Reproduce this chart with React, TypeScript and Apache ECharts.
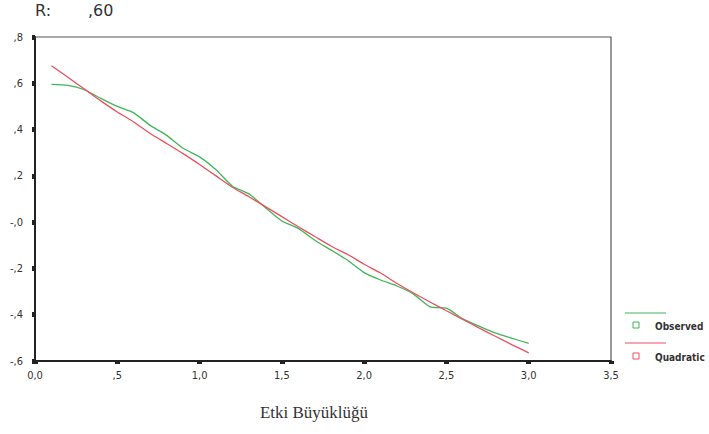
import React, { useEffect, useRef } from "react";
import * as echarts from "echarts";

const xValues = [0.1, 0.2, 0.3, 0.4, 0.5, 0.6, 0.7, 0.8, 0.9, 1.0, 1.1, 1.2, 1.3, 1.4, 1.5, 1.6, 1.7, 1.8, 1.9, 2.0, 2.1, 2.2, 2.3, 2.4, 2.5, 2.6, 2.7, 2.8, 2.9, 3.0];
const observed = [0.595, 0.591, 0.572, 0.535, 0.5, 0.472, 0.418, 0.375, 0.319, 0.282, 0.226, 0.155, 0.122, 0.062, 0.005, -0.027, -0.078, -0.121, -0.165, -0.218, -0.25, -0.276, -0.311, -0.366, -0.372, -0.418, -0.45, -0.48, -0.502, -0.524];
const quadratic = [0.676, 0.626, 0.575, 0.524, 0.476, 0.433, 0.383, 0.34, 0.296, 0.249, 0.2, 0.151, 0.11, 0.067, 0.024, -0.02, -0.062, -0.104, -0.14, -0.182, -0.22, -0.265, -0.306, -0.345, -0.383, -0.42, -0.458, -0.494, -0.53, -0.565];
const seriesNames = ["Observed", "Quadratic"];
const xAxisTitle = "Etki Büyüklüğü";
const rLabel = "R:";
const rValue = ",60";

const GREEN = "#3fb75a";
const RED = "#ec4f5e";

function fmtYLabel(v: number): string {
  const r = Math.round(v * 10) / 10;
  const s = Math.abs(r).toFixed(1).replace(".", ",").replace(/^0,/, ",");
  return r > 0 ? s : "-" + s;
}
function fmtX(v: number): string {
  const r = Math.round(v * 10) / 10;
  if (r === 0) return "0,0";
  return r.toFixed(1).replace(".", ",").replace(/^0,/, ",");
}

export default function App() {
  const ref = useRef<HTMLDivElement>(null);
  useEffect(() => {
    if (!ref.current) return;
    const chart = echarts.init(ref.current, null, { renderer: "svg" });
    const labelFont = { fontFamily: "DejaVu Sans Condensed, DejaVu Sans, sans-serif", fontSize: 11, color: "#333" };
    chart.setOption({
      animation: false,
      backgroundColor: "#ffffff",
      grid: { left: 35, right: 98, top: 37, bottom: 73, show: true, borderColor: "#555", borderWidth: 1.2 },
      xAxis: {
        type: "value",
        min: 0,
        max: 3.5,
        interval: 0.5,
        axisLine: { show: true, onZero: false, lineStyle: { color: "#222", width: 2 } },
        axisTick: { show: true, inside: false, length: 3, lineStyle: { color: "#222", width: 5 } },
        axisLabel: { ...labelFont, margin: 9, formatter: (v: number) => fmtX(v) },
        splitLine: { show: false },
      },
      yAxis: {
        type: "value",
        min: -0.6,
        max: 0.8,
        interval: 0.2,
        axisLine: { show: true, onZero: false, lineStyle: { color: "#222", width: 2 } },
        axisTick: { show: true, inside: false, length: 3, lineStyle: { color: "#222", width: 5 } },
        axisLabel: { ...labelFont, margin: 12, formatter: (v: number) => fmtYLabel(v) },
        splitLine: { show: false },
      },
      series: [
        {
          name: seriesNames[0],
          type: "line",
          data: xValues.map((x, i) => [x, observed[i]]),
          showSymbol: false,
          smooth: 0.2,
          lineStyle: { color: GREEN, width: 1.3 },
          itemStyle: { color: GREEN },
        },
        {
          name: seriesNames[1],
          type: "line",
          data: xValues.map((x, i) => [x, quadratic[i]]),
          showSymbol: false,
          smooth: 0.2,
          lineStyle: { color: RED, width: 1.3 },
          itemStyle: { color: RED },
        },
      ],
      graphic: [
        { type: "text", left: 35, top: 2, style: { text: rLabel, font: "16px 'DejaVu Sans', sans-serif", fill: "#333" } },
        { type: "text", left: 88, top: 2, style: { text: rValue, font: "16px 'DejaVu Sans', sans-serif", fill: "#333" } },
        { type: "line", shape: { x1: 625, y1: 313, x2: 666, y2: 313 }, style: { stroke: GREEN, lineWidth: 1.2 } },
        { type: "rect", shape: { x: 633, y: 322, width: 6, height: 6 }, style: { fill: "none", stroke: GREEN, lineWidth: 1 } },
        { type: "text", x: 655, y: 326, style: { text: seriesNames[0], font: "bold 10px 'DejaVu Sans Condensed', sans-serif", fill: "#333", textVerticalAlign: "middle" } },
        { type: "line", shape: { x1: 625, y1: 343, x2: 666, y2: 343 }, style: { stroke: RED, lineWidth: 1.2 } },
        { type: "rect", shape: { x: 633, y: 353, width: 6, height: 6 }, style: { fill: "none", stroke: RED, lineWidth: 1 } },
        { type: "text", x: 655, y: 357, style: { text: seriesNames[1], font: "bold 10px 'DejaVu Sans Condensed', sans-serif", fill: "#333", textVerticalAlign: "middle" } },
        { type: "text", x: 314, y: 412, style: { text: xAxisTitle, font: "17px 'Liberation Serif', serif", fill: "#333", textAlign: "center", textVerticalAlign: "middle" } },
      ],
    });
    return () => chart.dispose();
  }, []);
  return <div ref={ref} style={{ position: "absolute", left: 0, top: 0, width: 709, height: 434 }} />;
}
